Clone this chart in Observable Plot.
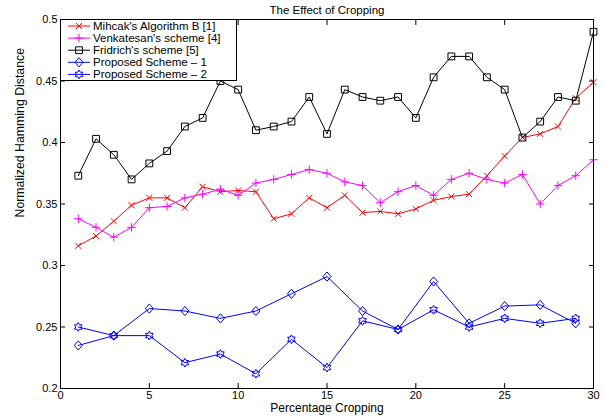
<!DOCTYPE html>
<html><head><meta charset="utf-8">
<script src="https://cdn.jsdelivr.net/npm/d3@7"></script>
<script src="https://cdn.jsdelivr.net/npm/@observablehq/plot@0.6"></script>
<style>
html,body{margin:0;padding:0;background:#fff;}
#wrap{position:relative;width:604px;height:419px;font-family:"Liberation Sans",Arial,Helvetica,sans-serif;}
#legend{position:absolute;left:60px;top:19px;width:177px;height:62px;border:1px solid #000;background:#fff;box-sizing:border-box;}
#legend svg{display:block;overflow:visible;}
</style></head><body><div id="wrap"></div>
<script>
// ---- data ----
const xAll = [1,2,3,4,5,6,7,8,9,10,11,12,13,14,15,16,17,18,19,20,21,22,23,24,25,26,27,28,29,30];
const xOdd = [1,3,5,7,9,11,13,15,17,19,21,23,25,27,29];
const mihcak = [0.316,0.324,0.336,0.349,0.355,0.355,0.347,0.364,0.360,0.361,0.360,0.338,0.342,0.355,0.347,0.357,0.343,0.344,0.342,0.346,0.353,0.356,0.358,0.373,0.389,0.404,0.407,0.413,0.436,0.449];
const venkatesan = [0.338,0.331,0.323,0.331,0.347,0.348,0.355,0.358,0.362,0.357,0.367,0.370,0.374,0.378,0.375,0.368,0.365,0.351,0.360,0.365,0.357,0.370,0.375,0.370,0.367,0.374,0.350,0.365,0.373,0.386];
const fridrich = [0.373,0.403,0.390,0.370,0.383,0.393,0.413,0.420,0.450,0.443,0.410,0.413,0.417,0.437,0.407,0.443,0.437,0.434,0.437,0.420,0.453,0.470,0.470,0.453,0.443,0.404,0.417,0.437,0.434,0.490];
const proposed1 = [0.235,0.243,0.265,0.263,0.257,0.263,0.277,0.291,0.263,0.248,0.287,0.253,0.267,0.268,0.253];
const proposed2 = [0.250,0.243,0.243,0.221,0.228,0.212,0.240,0.217,0.255,0.248,0.264,0.250,0.257,0.253,0.257];
const seriesNames = ["Mihcak's Algorithm B [1]","Venkatesan's scheme [4]","Fridrich's scheme [5]","Proposed Scheme \u2013 1","Proposed Scheme \u2013 2"];
const seriesColors = ["#ff0000","#ff00ff","#000000","#0000ff","#0000ff"];
const xTicks = [0,5,10,15,20,25,30];
const yTicks = [0.2,0.25,0.3,0.35,0.4,0.45,0.5];
const titleText = "The Effect of Cropping";
const xLabel = "Percentage Cropping";
const yLabel = "Normalized Hamming Distance";

// ---- marker symbols (MATLAB-like, stroked) ----
const rad = size => Math.sqrt(size / Math.PI);
const symTimes = {draw(c, s){const r = rad(s)*0.75; c.moveTo(-r,-r); c.lineTo(r,r); c.moveTo(-r,r); c.lineTo(r,-r);}};
const symPlus = {draw(c, s){const r = rad(s)*1.05; c.moveTo(-r,0); c.lineTo(r,0); c.moveTo(0,-r); c.lineTo(0,r);}};
const symSquare = {draw(c, s){const r = rad(s)*0.85; c.moveTo(-r,-r); c.lineTo(r,-r); c.lineTo(r,r); c.lineTo(-r,r); c.closePath();}};
const symDiamond = {draw(c, s){const r = rad(s); c.moveTo(0,-r*1.15); c.lineTo(r,0); c.lineTo(0,r*1.15); c.lineTo(-r,0); c.closePath();}};
const symHexagram = {draw(c, s){const R = rad(s)*1.1; for (let i = 0; i < 12; i++){const a = -Math.PI/2 + i*Math.PI/6; const rr = i%2===0 ? R : R/Math.sqrt(3); const px = rr*Math.cos(a), py = rr*Math.sin(a); if (i===0) c.moveTo(px,py); else c.lineTo(px,py);} c.closePath();}};
const symbols = [symTimes, symPlus, symSquare, symDiamond, symHexagram];

const toRows = (xs, ys) => xs.map((x, i) => ({x, y: ys[i]}));
const datasets = [toRows(xAll, mihcak), toRows(xAll, venkatesan), toRows(xAll, fridrich), toRows(xOdd, proposed1), toRows(xOdd, proposed2)];

const font = '"Liberation Sans", Arial, Helvetica, sans-serif';
const seriesMarks = datasets.flatMap((d, k) => [
  Plot.line(d, {x: "x", y: "y", stroke: seriesColors[k], strokeWidth: 1}),
  Plot.dot(d, {x: "x", y: "y", symbol: symbols[k], r: 4, stroke: seriesColors[k], fill: "none", strokeWidth: 1})
]);

const chart = Plot.plot({
  width: 604, height: 419,
  marginLeft: 60, marginRight: 11, marginTop: 19, marginBottom: 31,
  style: {fontFamily: font, fontSize: "11px", color: "black", background: "white", overflow: "visible"},
  x: {domain: [0, 30], label: null},
  y: {domain: [0.2, 0.5], label: null},
  marks: [
    ...seriesMarks,
    Plot.frame({stroke: "black", strokeWidth: 1}),
    Plot.axisX({ticks: xTicks, anchor: "bottom", tickSize: 0, tickPadding: 3, tickFormat: d => String(d), label: null, fontSize: 11}),
    Plot.axisY({ticks: yTicks, anchor: "left", tickSize: 0, tickPadding: 3, tickFormat: d => String(d), label: null, fontSize: 11}),
    Plot.axisX({ticks: xTicks, anchor: "bottom", tickSize: 5, dy: -5, tickFormat: () => "", label: null}),
    Plot.axisX({ticks: xTicks, anchor: "top", tickSize: 5, dy: 5, tickFormat: () => "", label: null}),
    Plot.axisY({ticks: yTicks, anchor: "left", tickSize: 5, dx: 5, tickFormat: () => "", label: null}),
    Plot.axisY({ticks: yTicks, anchor: "right", tickSize: 5, dx: -5, tickFormat: () => "", label: null}),
    Plot.text([titleText], {text: d => d, frameAnchor: "top", dy: -9, lineAnchor: "middle", fontSize: 11.5}),
    Plot.text([xLabel], {text: d => d, frameAnchor: "bottom", dy: 19.5, lineAnchor: "middle", fontSize: 12}),
    Plot.text([yLabel], {text: d => d, frameAnchor: "left", dx: -40, dy: 13.5, rotate: -90, lineAnchor: "middle", fontSize: 12.3})
  ]
});

const wrap = document.getElementById("wrap");
wrap.appendChild(chart);

// ---- legend overlay (MATLAB-style box inside the axes) ----
const legend = document.createElement("div");
legend.id = "legend";
wrap.appendChild(legend);
const lsvg = d3.select(legend).append("svg").attr("width", 175).attr("height", 60)
  .style("font-family", font).style("font-size", "11.5px");
seriesNames.forEach((name, k) => {
  const cy = 6 + k * 12.1;
  const g = lsvg.append("g").attr("transform", `translate(0,${cy})`);
  g.append("line").attr("x1", 7).attr("x2", 29).attr("y1", 0).attr("y2", 0)
    .attr("stroke", seriesColors[k]).attr("stroke-width", 1);
  g.append("path").attr("transform", "translate(18,0)")
    .attr("d", d3.symbol(symbols[k], 16 * Math.PI)())
    .attr("stroke", seriesColors[k]).attr("fill", "none").attr("stroke-width", 1);
  g.append("text").attr("x", 32).attr("y", 0).attr("dy", "0.35em").attr("fill", "black").text(name);
});
</script></body></html>
